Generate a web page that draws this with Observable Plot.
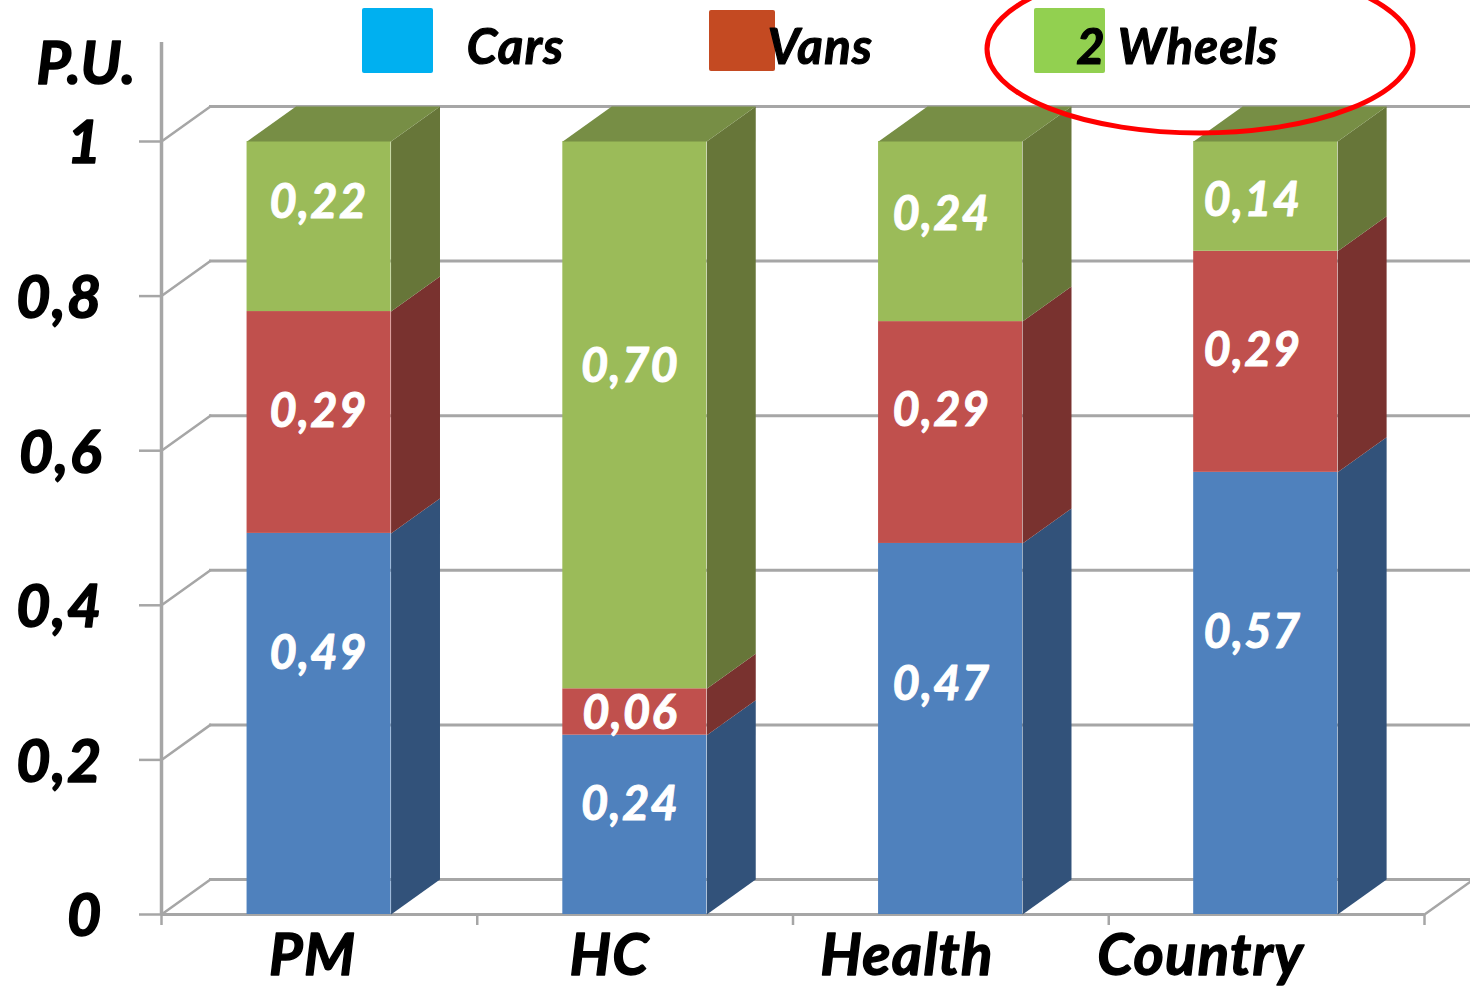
<!DOCTYPE html>
<html>
<head>
<meta charset="utf-8">
<script src="https://cdn.jsdelivr.net/npm/d3@7"></script>
<script src="https://cdn.jsdelivr.net/npm/@observablehq/plot@0.6"></script>
<style>html,body{margin:0;padding:0;background:#fff;overflow:hidden}svg{display:block}</style>
</head>
<body>
<div id="chart"></div>
<script>
const categories = ["PM", "HC", "Health", "Country"];
const seriesNames = ["Cars", "Vans", "2 Wheels"];
// segment heights as drawn
const cars = [0.493, 0.232, 0.48, 0.572];
const vans = [0.287, 0.06, 0.287, 0.286];
const wheels = [0.22, 0.708, 0.233, 0.142];
// printed labels
const carsLabels = ["0,49", "0,24", "0,47", "0,57"];
const vansLabels = ["0,29", "0,06", "0,29", "0,29"];
const wheelsLabels = ["0,22", "0,70", "0,24", "0,14"];
const yTicks = [0, 0.2, 0.4, 0.6, 0.8, 1];

// layout (not data)
const frontColors = ["#4F81BD", "#C0504D", "#9BBB59"];
const sideColors = ["#32527A", "#79322F", "#677639"];
const topColor = "#778E45";
const legendColors = ["#00B0F0", "#C44A22", "#92D050"];
const gridColor = "#a6a6a6";
const halfBar = 0.228, depthX = 0.155, depthY = 0.0453;
const barCenter = [0.499, 1.499, 2.499, 3.497];
const catLabelX = [0.479, 1.419, 2.361, 3.291];
const valueLabelX = [0.497, 1.484, 2.47, 3.455];
const carsLabelY = [0.337, 0.142, 0.297, 0.364];
const vansLabelY = [0.650, 0.259, 0.651, 0.729];
const wheelsLabelY = [0.920, 0.708, 0.905, 0.923];

const W = 1470, H = 986, L = 161, R = 1424, T = 141, B = 914;
const px = p => (p - L) / ((R - L) / 4);
const py = p => (B - p) / (B - T);

const stacks = [cars, vans, wheels];
const segments = stacks.map((vals, s) => vals.map((v, c) => {
  const y1 = stacks.slice(0, s).reduce((a, arr) => a + arr[c], 0);
  return {c, x1: barCenter[c] - halfBar, x2: barCenter[c] + halfBar, y1, y2: y1 + v};
}));

const sidePts = ss => ss.flatMap((d, i) => [
  {i, x: d.x2, y: d.y1}, {i, x: d.x2 + depthX, y: d.y1 + depthY},
  {i, x: d.x2 + depthX, y: d.y2 + depthY}, {i, x: d.x2, y: d.y2}
]);
const topPts = segments[2].flatMap((d, i) => [
  {i, x: d.x1, y: d.y2}, {i, x: d.x2, y: d.y2},
  {i, x: d.x2 + depthX, y: d.y2 + depthY}, {i, x: d.x1 + depthX, y: d.y2 + depthY}
]);
const wallEnd = px(1470);

const labelMark = (labels, ys) => Plot.text(labels, {
  x: (d, i) => valueLabelX[i], y: (d, i) => ys[i], text: d => d,
  fill: "white", stroke: "white", strokeWidth: 1, fontSize: 47, fontWeight: 700, fontStyle: "italic", fontFamily: "Lato"
});

const legend = [
  {name: seriesNames[0], a: 362, b: 433, t: 8, u: 73, tx: 515, color: legendColors[0]},
  {name: seriesNames[1], a: 709, b: 775, t: 10, u: 71, tx: 820, color: legendColors[1]},
  {name: seriesNames[2], a: 1034, b: 1105, t: 8, u: 73, tx: 1177, color: legendColors[2]}
];

const ellipseMark = (index, {x, y}) => {
  const el = document.createElementNS("http://www.w3.org/2000/svg", "ellipse");
  el.setAttribute("cx", x(px(1200)));
  el.setAttribute("cy", y(py(49)));
  el.setAttribute("rx", 213);
  el.setAttribute("ry", 84);
  el.setAttribute("fill", "none");
  el.setAttribute("stroke", "#FF0000");
  el.setAttribute("stroke-width", 5);
  return el;
};

const chart = Plot.plot({
  width: W, height: H,
  marginLeft: L, marginRight: W - R, marginTop: T, marginBottom: H - B,
  x: {domain: [0, 4], axis: null},
  y: {domain: [0, 1], axis: null},
  style: {background: "#fff", fontFamily: "Lato", fontWeight: 700, fontStyle: "italic", color: "#000", overflow: "hidden", letterSpacing: "1.3px"},
  marks: [
    // back wall and floor
    Plot.ruleY(yTicks, {y: d => d + depthY, x1: px(209), x2: wallEnd, stroke: gridColor, strokeWidth: 3}),
    ...yTicks.map(t => Plot.line([[0, t], [depthX, t + depthY]], {stroke: gridColor, strokeWidth: 2.5})),
    Plot.line([[4, 0], [4 + depthX, depthY]], {stroke: gridColor, strokeWidth: 2.5}),
    // axes
    Plot.ruleX([0], {y1: 0, y2: py(42), stroke: gridColor, strokeWidth: 3.5}),
    Plot.ruleY([0], {x1: 0, x2: 4, stroke: gridColor, strokeWidth: 3}),
    Plot.axisY(yTicks, {
      anchor: "left", label: null, tickSize: 22, stroke: gridColor, strokeWidth: 2.5, tickFormat: () => ""
    }),
    Plot.axisY(yTicks, {
      anchor: "left", label: null, tickSize: 0, tickPadding: 59, dy: 3,
      tickFormat: d => String(d).replace(".", ","), fontSize: 59, fill: "#000",
      textStroke: "#000", textStrokeWidth: 1.6
    }),
    Plot.axisX([0, 1, 2, 3, 4], {
      anchor: "bottom", label: null, tickSize: 11, stroke: gridColor, strokeWidth: 2.5, tickFormat: () => ""
    }),
    // bars
    ...segments.flatMap((ss, s) => [
      Plot.line(sidePts(ss), {x: "x", y: "y", z: "i", fill: sideColors[s], stroke: null}),
      Plot.rect(ss, {x1: "x1", x2: "x2", y1: "y1", y2: "y2", fill: frontColors[s]})
    ]),
    Plot.line(topPts, {x: "x", y: "y", z: "i", fill: topColor, stroke: null}),
    // value labels
    labelMark(carsLabels, carsLabelY),
    labelMark(vansLabels, vansLabelY),
    labelMark(wheelsLabels, wheelsLabelY),
    // category labels
    Plot.text(categories, {
      x: (d, i) => catLabelX[i], y: py(956), text: d => d, fontSize: 58, fill: "#000", stroke: "#000", strokeWidth: 1.4
    }),
    // legend
    Plot.rect(legend, {
      x1: d => px(d.a), x2: d => px(d.b), y1: d => py(d.u), y2: d => py(d.t),
      fill: d => d.color, rx: 2
    }),
    Plot.text(legend, {x: d => px(d.tx), y: py(48), text: "name", fontSize: 49, fill: "#000", stroke: "#000", strokeWidth: 1.2}),
    Plot.text(["P.U."], {x: px(86), y: py(65), text: d => d, fontSize: 59, fill: "#000", stroke: "#000", strokeWidth: 1.6}),
    ellipseMark
  ]
});
document.getElementById("chart").appendChild(chart);
</script>
</body>
</html>
